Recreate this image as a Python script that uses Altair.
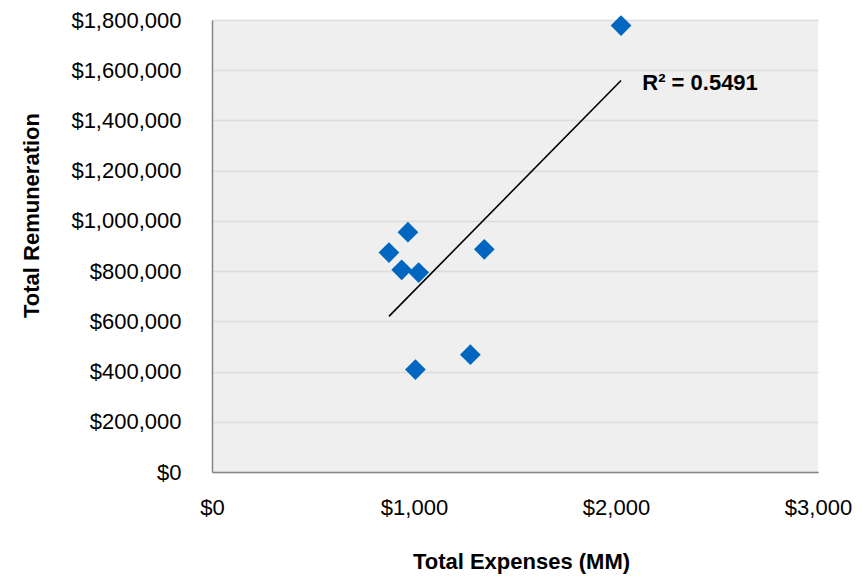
import altair as alt
import pandas as pd

expenses = [876, 970, 939, 1023, 1348, 1279, 1007, 2025]
remuneration = [874000, 955000, 805000, 794000, 887000, 467000, 408000, 1778000]
r2_label = ["R² = 0.5491"]
r2_pos_x = [2130]
r2_pos_y = [1550000]

df = pd.DataFrame({"expenses": expenses, "remuneration": remuneration})
lab = pd.DataFrame({"x": r2_pos_x, "y": r2_pos_y, "t": r2_label})

FONT = "Liberation Sans"

xs = alt.Scale(domain=[0, 3000], nice=False, zero=True)
ys = alt.Scale(domain=[0, 1800000], nice=False)

xenc = alt.X("expenses:Q", scale=xs, title="Total Expenses (MM)",
             axis=alt.Axis(values=[0, 1000, 2000, 3000], format="$,.0f", grid=False,
                           ticks=False, labelPadding=25, titlePadding=33, labelFlush=False,
                           titleX=309,
                           domainColor="#858585", domainWidth=1.5))
yenc = alt.Y("remuneration:Q", scale=ys, title="Total Remuneration",
             axis=alt.Axis(values=list(range(0, 1800001, 200000)), format="$,.0f",
                           grid=True, gridColor="#DCDCDC", gridWidth=1.5,
                           ticks=False, labelPadding=31, titlePadding=27, labelFlush=False,
                           titleY=195,
                           domainColor="#858585", domainWidth=1.5))

points = alt.Chart(df).mark_point(shape="diamond", filled=True, size=430,
                                  color="#0066C0", opacity=1).encode(x=xenc, y=yenc)

trend = alt.Chart(df).transform_regression("expenses", "remuneration").mark_line(
    color="black", strokeWidth=1.6).encode(x=alt.X("expenses:Q", scale=xs),
                                           y=alt.Y("remuneration:Q", scale=ys))

text = alt.Chart(lab).mark_text(font=FONT, fontSize=22, fontWeight="bold", align="left",
                                baseline="middle", color="black").encode(
    x=alt.X("x:Q", scale=xs), y=alt.Y("y:Q", scale=ys), text="t:N")

chart = alt.layer(trend, points, text).properties(
    width=606, height=452,
    autosize=alt.AutoSizeParams(type="none"),
    padding={"left": 204, "top": 12, "right": 40, "bottom": 106},
    background="white",
).configure_view(fill="#EFEFEF", stroke=None).configure_axis(
    labelFont=FONT, labelFontSize=22, labelColor="black",
    titleFont=FONT, titleFontSize=22, titleFontWeight="bold", titleColor="black",
)

chart.save("out.html", embed_options={"renderer": "svg", "actions": False})
